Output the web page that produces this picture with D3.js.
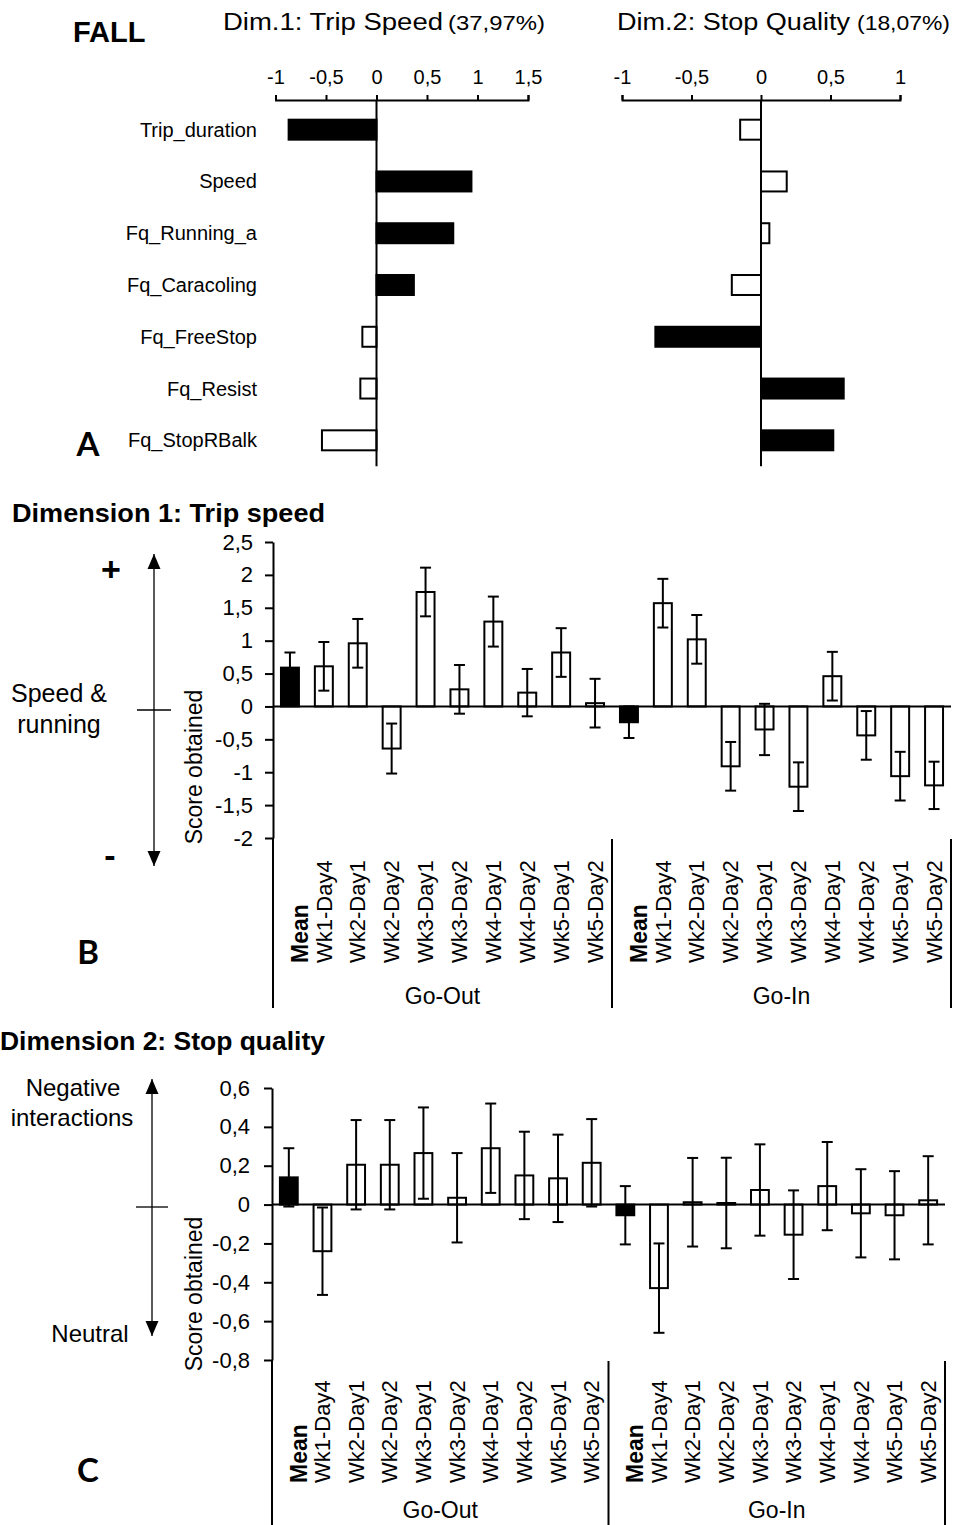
<!DOCTYPE html>
<html>
<head>
<meta charset="utf-8">
<script src="https://cdn.jsdelivr.net/npm/d3@7"></script>
<style>
  body { margin: 0; background: #fff; }
  svg { display: block; font-family: "Liberation Sans", Arial, sans-serif; }
</style>
</head>
<body>
<div id="chart"></div>
<script>
const width = 953;
const height = 1525;

// panel A: loading of each variable on the two dimensions
const variables = ["Trip_duration", "Speed", "Fq_Running_a", "Fq_Caracoling", "Fq_FreeStop", "Fq_Resist", "Fq_StopRBalk"];
const dim1Loadings = [-0.87, 0.94, 0.76, 0.37, -0.14, -0.16, -0.54];
const dim2Loadings = [-0.15, 0.185, 0.06, -0.21, -0.76, 0.595, 0.52];
// variables that build the dimension are drawn in black
const dim1Filled = [true, true, true, true, false, false, false];
const dim2Filled = [false, false, false, false, true, true, true];
const dim1Ticks = [-1, -0.5, 0, 0.5, 1, 1.5];
const dim2Ticks = [-1, -0.5, 0, 0.5, 1];

// panels B and C: mean score per period with error
const groups = ["Go-Out", "Go-In"];
const periods = ["Mean", "Wk1-Day4", "Wk2-Day1", "Wk2-Day2", "Wk3-Day1", "Wk3-Day2", "Wk4-Day1", "Wk4-Day2", "Wk5-Day1", "Wk5-Day2"];

const speedOut = [0.59, 0.61, 0.96, -0.64, 1.74, 0.26, 1.29, 0.21, 0.82, 0.05];
const speedOutErr = [0.23, 0.37, 0.37, 0.38, 0.37, 0.37, 0.38, 0.36, 0.37, 0.37];
const speedIn = [-0.24, 1.57, 1.02, -0.91, -0.35, -1.22, 0.46, -0.44, -1.06, -1.2];
const speedInErr = [0.24, 0.37, 0.37, 0.37, 0.39, 0.37, 0.37, 0.37, 0.37, 0.36];
const speedTicks = [2.5, 2, 1.5, 1, 0.5, 0, -0.5, -1, -1.5, -2];

const stopOut = [0.14, -0.24, 0.205, 0.205, 0.265, 0.035, 0.29, 0.15, 0.135, 0.215];
const stopOutErr = [0.15, 0.225, 0.23, 0.23, 0.235, 0.23, 0.23, 0.225, 0.225, 0.225];
const stopIn = [-0.055, -0.43, 0.012, 0.008, 0.075, -0.155, 0.095, -0.045, -0.055, 0.022];
const stopInErr = [0.15, 0.23, 0.228, 0.233, 0.235, 0.228, 0.227, 0.227, 0.227, 0.227];
const stopTicks = [0.6, 0.4, 0.2, 0, -0.2, -0.4, -0.6, -0.8];

const fmt = d3.formatLocale({ decimal: ",", thousands: ".", grouping: [3], currency: ["", ""], minus: "-" }).format("");

const svg = d3
  .select("#chart")
  .append("svg")
  .attr("width", width)
  .attr("height", height)
  .attr("viewBox", [0, 0, width, height]);

// arrow head
svg.append("defs")
  .append("marker")
  .attr("id", "head")
  .attr("markerUnits", "userSpaceOnUse")
  .attr("viewBox", "0 -7 15 14")
  .attr("refX", 15)
  .attr("refY", 0)
  .attr("markerWidth", 15)
  .attr("markerHeight", 14)
  .attr("orient", "auto")
  .append("path")
  .attr("d", "M0,-6.5L15,0L0,6.5Z")
  .attr("fill", "#000");

function styleAxis(g, size) {
  g.attr("font-family", null).attr("font-size", size);
  g.select(".domain").attr("stroke-width", 2);
  g.selectAll(".tick line").attr("stroke-width", 2);
  g.selectAll(".tick text").attr("fill", "#000");
}

// ---------- panel A ----------
svg.append("text")
  .attr("x", 73).attr("y", 42)
  .attr("font-size", 29).attr("font-weight", "bold")
  .text("FALL");

function title(x, y, main, mainLen, sub, subX, subLen) {
  svg.append("text").attr("x", x).attr("y", y).attr("font-size", 23)
    .attr("textLength", mainLen).attr("lengthAdjust", "spacingAndGlyphs").text(main);
  svg.append("text").attr("x", subX).attr("y", y).attr("font-size", 20)
    .attr("textLength", subLen).attr("lengthAdjust", "spacingAndGlyphs").text(sub);
}
title(223, 30, "Dim.1: Trip Speed", 220, "(37,97%)", 448, 97);
title(617, 30, "Dim.2: Stop Quality", 233, "(18,07%)", 857, 93);

const yA = d3.scaleBand()
  .domain(variables)
  .range([103.8, 466.2])
  .paddingInner(0.614)
  .paddingOuter(0.307);

function drawLoadings(values, filled, ticks, range, withLabels) {
  const x = d3.scaleLinear().domain([ticks[0], ticks[ticks.length - 1]]).range(range);
  const g = svg.append("g");

  g.append("g")
    .attr("transform", "translate(0,100)")
    .call(d3.axisTop(x).tickValues(ticks).tickFormat(fmt).tickSize(5).tickPadding(11))
    .call(styleAxis, 20);

  g.append("g")
    .selectAll("rect")
    .data(values)
    .join("rect")
    .attr("x", (d) => Math.min(x(0), x(d)))
    .attr("y", (d, i) => yA(variables[i]))
    .attr("width", (d) => Math.abs(x(d) - x(0)))
    .attr("height", yA.bandwidth())
    .attr("fill", (d, i) => (filled[i] ? "#000" : "#fff"))
    .attr("stroke", "#000")
    .attr("stroke-width", 2);

  g.append("line")
    .attr("x1", x(0)).attr("x2", x(0))
    .attr("y1", 100).attr("y2", yA.range()[1])
    .attr("stroke", "#000").attr("stroke-width", 2);

  if (withLabels) {
    g.append("g")
      .selectAll("text")
      .data(variables)
      .join("text")
      .attr("x", 257)
      .attr("y", (d) => yA(d) + yA.bandwidth() / 2)
      .attr("dy", "0.35em")
      .attr("text-anchor", "end")
      .attr("font-size", 20)
      .text((d) => d);
  }
}

drawLoadings(dim1Loadings, dim1Filled, dim1Ticks, [275.5, 528], true);
drawLoadings(dim2Loadings, dim2Filled, dim2Ticks, [622, 900], false);

// ---------- panels B and C ----------
function drawScores(cfg) {
  const keys = groups.flatMap((g) => periods.map((p) => g + "|" + p));
  const vals = cfg.out.concat(cfg.in);
  const errs = cfg.outErr.concat(cfg.inErr);
  const data = keys.map((k, i) => ({ key: k, period: k.split("|")[1], v: vals[i], e: errs[i] }));

  const x = d3.scaleBand().domain(keys).range(cfg.xRange).paddingInner(0.47).paddingOuter(0.235);
  const y = d3.scaleLinear()
    .domain([cfg.ticks[cfg.ticks.length - 1], cfg.ticks[0]])
    .range(cfg.yRange);
  const g = svg.append("g");
  const x0 = cfg.xRange[0];
  const x1 = cfg.xRange[1];

  // bars
  g.append("g")
    .selectAll("rect")
    .data(data)
    .join("rect")
    .attr("x", (d) => x(d.key))
    .attr("y", (d) => Math.min(y(0), y(d.v)))
    .attr("width", x.bandwidth())
    .attr("height", (d) => Math.abs(y(d.v) - y(0)))
    .attr("fill", (d) => (d.period === "Mean" ? "#000" : "#fff"))
    .attr("stroke", "#000")
    .attr("stroke-width", 2);

  // zero line
  g.append("line")
    .attr("x1", x0).attr("x2", x1)
    .attr("y1", y(0)).attr("y2", y(0))
    .attr("stroke", "#000").attr("stroke-width", 2);

  // error bars
  const cap = 5.5;
  const eb = g.append("g").attr("stroke", "#000").attr("stroke-width", 2)
    .selectAll("g").data(data).join("g")
    .attr("transform", (d) => `translate(${x(d.key) + x.bandwidth() / 2},0)`);
  eb.append("line").attr("y1", (d) => y(d.v - d.e)).attr("y2", (d) => y(d.v + d.e));
  eb.append("line").attr("x1", -cap).attr("x2", cap).attr("y1", (d) => y(d.v + d.e)).attr("y2", (d) => y(d.v + d.e));
  eb.append("line").attr("x1", -cap).attr("x2", cap).attr("y1", (d) => y(d.v - d.e)).attr("y2", (d) => y(d.v - d.e));

  // y axis
  g.append("g")
    .attr("transform", `translate(${x0},0)`)
    .call(d3.axisLeft(y).tickValues(cfg.ticks).tickFormat(fmt).tickSize(8).tickSizeOuter(0).tickPadding(cfg.pad))
    .call(styleAxis, 22);

  // axis line carried down through the category block, group dividers
  const divider = x(keys[periods.length]) - (x.step() - x.bandwidth()) / 2;
  const lines = g.append("g").attr("stroke", "#000").attr("stroke-width", 2);
  lines.append("line").attr("x1", x0).attr("x2", x0).attr("y1", y.range()[0]).attr("y2", cfg.bottom);
  [divider, x1].forEach((lx) => {
    lines.append("line").attr("x1", lx).attr("x2", lx).attr("y1", y.range()[0] + 1).attr("y2", cfg.bottom);
  });

  // category labels
  g.append("g")
    .selectAll("text")
    .data(data)
    .join("text")
    .attr("transform", (d) => `translate(${x(d.key) + x.bandwidth() / 2 + (d.period === "Mean" ? 10 : 0)},${cfg.labelY}) rotate(-90)`)
    .attr("dy", "0.35em")
    .attr("font-size", (d) => (d.period === "Mean" ? 23 : 22))
    .attr("font-weight", (d) => (d.period === "Mean" ? "bold" : "normal"))
    .text((d) => d.period);

  // group labels
  g.append("g")
    .selectAll("text")
    .data(groups)
    .join("text")
    .attr("x", (d, i) => (i === 0 ? (x0 + divider) / 2 : (divider + x1) / 2))
    .attr("y", cfg.groupY)
    .attr("text-anchor", "middle")
    .attr("font-size", 23)
    .text((d) => d);

  // y title
  g.append("text")
    .attr("transform", `translate(202,${cfg.titleY}) rotate(-90)`)
    .attr("text-anchor", "middle")
    .attr("font-size", 23)
    .text("Score obtained");
}

drawScores({
  out: speedOut, outErr: speedOutErr, in: speedIn, inErr: speedInErr,
  ticks: speedTicks, xRange: [273, 951], yRange: [838, 542],
  pad: 12, bottom: 1008, labelY: 963, groupY: 1004, titleY: 767
});

drawScores({
  out: stopOut, outErr: stopOutErr, in: stopIn, inErr: stopInErr,
  ticks: stopTicks, xRange: [272, 945], yRange: [1360, 1088],
  pad: 14, bottom: 1525, labelY: 1483, groupY: 1518, titleY: 1294
});

// panel titles
svg.append("text").attr("x", 12).attr("y", 522)
  .attr("font-size", 25).attr("font-weight", "bold")
  .attr("textLength", 313).attr("lengthAdjust", "spacingAndGlyphs")
  .text("Dimension 1: Trip speed");
svg.append("text").attr("x", 0).attr("y", 1050)
  .attr("font-size", 25).attr("font-weight", "bold")
  .attr("textLength", 325).attr("lengthAdjust", "spacingAndGlyphs")
  .text("Dimension 2: Stop quality");

// side arrows
function sideArrow(x, top, bottom, tickY, tickHalf) {
  const g = svg.append("g").attr("stroke", "#000").attr("stroke-width", 1.3);
  g.append("line").attr("x1", x).attr("x2", x).attr("y1", tickY).attr("y2", top).attr("marker-end", "url(#head)");
  g.append("line").attr("x1", x).attr("x2", x).attr("y1", tickY).attr("y2", bottom).attr("marker-end", "url(#head)");
  g.append("line").attr("x1", x - tickHalf).attr("x2", x + tickHalf).attr("y1", tickY).attr("y2", tickY);
}
sideArrow(154, 554, 866, 710, 17);
sideArrow(152, 1079, 1336, 1207, 16);

const notes = [
  { t: "Speed &", x: 59, y: 702, s: 25 },
  { t: "running", x: 59, y: 733, s: 25 },
  { t: "Negative", x: 73, y: 1096, s: 24 },
  { t: "interactions", x: 72, y: 1126, s: 24 },
  { t: "Neutral", x: 90, y: 1342, s: 24 }
];
svg.append("g")
  .selectAll("text")
  .data(notes)
  .join("text")
  .attr("x", (d) => d.x)
  .attr("y", (d) => d.y)
  .attr("text-anchor", "middle")
  .attr("font-size", (d) => d.s)
  .text((d) => d.t);

svg.append("text").attr("x", 111).attr("y", 581).attr("text-anchor", "middle")
  .attr("font-size", 34).attr("font-weight", "bold").text("+");
svg.append("text").attr("x", 110).attr("y", 867).attr("text-anchor", "middle")
  .attr("font-size", 34).attr("font-weight", "bold").text("-");

// panel letters
const letters = [
  { t: "A", y: 456 },
  { t: "B", y: 964 },
  { t: "C", y: 1482 }
];
svg.append("g")
  .selectAll("text")
  .data(letters)
  .join("text")
  .attr("x", 88)
  .attr("y", (d) => d.y)
  .attr("text-anchor", "middle")
  .attr("font-family", "Lato, sans-serif")
  .attr("font-weight", "bold")
  .attr("font-size", 33)
  .text((d) => d.t);
</script>
</body>
</html>
